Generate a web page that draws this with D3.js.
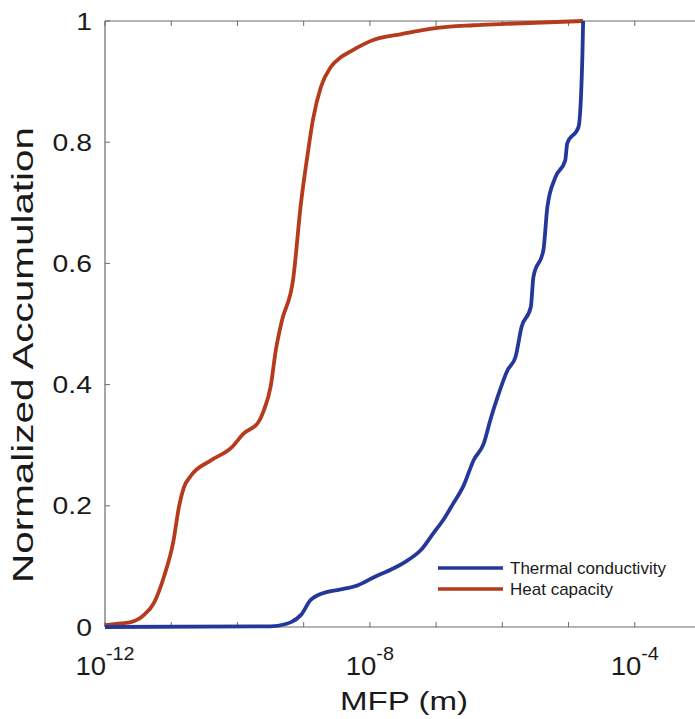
<!DOCTYPE html>
<html>
<head>
<meta charset="utf-8">
<script src="https://cdn.jsdelivr.net/npm/d3@7"></script>
<style>
    body { margin: 0; background: #fff; }
    text { font-family: "Liberation Sans", Arial, sans-serif; fill: #1a1a1a; }
</style>
</head>
<body>
<svg id="chart" width="695" height="719"></svg>
<script>
"use strict";

// data (log10 of MFP in m, normalized accumulation)
const condLogMfp = [-12.0, -9.50, -9.27, -9.19, -9.04, -8.89, -8.64, -8.44, -8.18, -7.94, -7.64, -7.43, -7.23, -7.04, -6.89, -6.74, -6.59, -6.43, -6.28, -6.18, -6.07, -5.92, -5.80, -5.71, -5.57, -5.53, -5.38, -5.32, -5.20, -5.05, -5.02, -4.85, -4.79, -4.78];
const condAccum  = [0.0, 0.001, 0.005, 0.008, 0.02, 0.045, 0.058, 0.062, 0.069, 0.082, 0.097, 0.11, 0.127, 0.155, 0.177, 0.204, 0.232, 0.276, 0.303, 0.342, 0.38, 0.424, 0.446, 0.495, 0.528, 0.578, 0.622, 0.693, 0.742, 0.77, 0.798, 0.825, 0.947, 1.0];

const heatLogMfp = [-12.0, -11.76, -11.61, -11.41, -11.26, -11.11, -10.97, -10.88, -10.81, -10.70, -10.40, -10.10, -9.90, -9.69, -9.60, -9.50, -9.42, -9.33, -9.16, -9.04, -8.94, -8.86, -8.74, -8.59, -8.44, -8.29, -7.94, -7.54, -7.04, -6.43, -6.03, -4.78];
const heatAccum  = [0.003, 0.006, 0.008, 0.02, 0.04, 0.083, 0.14, 0.20, 0.23, 0.25, 0.275, 0.295, 0.32, 0.337, 0.358, 0.396, 0.457, 0.505, 0.573, 0.70, 0.78, 0.837, 0.891, 0.924, 0.940, 0.950, 0.969, 0.978, 0.988, 0.993, 0.995, 1.0];

const seriesNames = ["Thermal conductivity", "Heat capacity"];
const seriesColors = ["#25389a", "#b63a1c"];

const xTickExp = [-12, -11, -10, -9, -8, -7, -6, -5, -4, -3];
const xLabelExp = [-12, -8, -4];
const yTicks = [0, 0.2, 0.4, 0.6, 0.8, 1];



// layout
const plot = { left: 105, right: 701, top: 21, bottom: 627 };
const axisColor = "#6a6a6a";
const tickLen = 5;

let svg = d3.select("#chart");



// scales
let scaleX = d3.scaleLog()
.domain([1e-12, 1e-3])
.range([plot.left, plot.right]);

let scaleY = d3.scaleLinear()
.domain([0, 1])
.range([plot.bottom, plot.top]);



// axes frame (bottom, top, left)
let axes = svg.append("g").attr("class", "axes");

axes.append("line")
.attr("x1", plot.left).attr("x2", plot.right)
.attr("y1", plot.bottom).attr("y2", plot.bottom)
.attr("stroke", axisColor).attr("stroke-width", 1.2);

axes.append("line")
.attr("x1", plot.left).attr("x2", plot.right)
.attr("y1", plot.top).attr("y2", plot.top)
.attr("stroke", axisColor).attr("stroke-width", 1.2);

axes.append("line")
.attr("x1", plot.left).attr("x2", plot.left)
.attr("y1", plot.top).attr("y2", plot.bottom)
.attr("stroke", axisColor).attr("stroke-width", 1.2);



// x ticks (inward, top and bottom)
xTickExp.forEach(e => {
    let x = scaleX(Math.pow(10, e));
    axes.append("line")
    .attr("x1", x).attr("x2", x)
    .attr("y1", plot.bottom).attr("y2", plot.bottom - tickLen)
    .attr("stroke", axisColor);
    axes.append("line")
    .attr("x1", x).attr("x2", x)
    .attr("y1", plot.top).attr("y2", plot.top + tickLen)
    .attr("stroke", axisColor);
});

// x tick labels 10^n
xLabelExp.forEach(e => {
    let x = scaleX(Math.pow(10, e));
    let t = axes.append("text")
    .attr("x", x)
    .attr("y", 675)
    .attr("text-anchor", "middle")
    .attr("transform", `translate(${x}, 0) scale(1.1, 1) translate(${-x}, 0)`)
    .style("font-size", "25px");
    t.append("tspan").text("10");
    t.append("tspan")
    .attr("dy", -15)
    .style("font-size", "18px")
    .text(String(e));
});



// y ticks + labels
yTicks.forEach(v => {
    let y = scaleY(v);
    axes.append("line")
    .attr("x1", plot.left).attr("x2", plot.left + tickLen)
    .attr("y1", y).attr("y2", y)
    .attr("stroke", axisColor);
    axes.append("text")
    .attr("x", 92)
    .attr("y", y)
    .attr("dy", "0.36em")
    .attr("text-anchor", "end")
    .attr("transform", `translate(92, 0) scale(1.18, 1) translate(-92, 0)`)
    .style("font-size", "24px")
    .text(v === 0 || v === 1 ? String(v) : v.toFixed(1));
});



// axis titles
svg.append("text")
.attr("x", 404)
.attr("y", 710)
.attr("text-anchor", "middle")
.attr("textLength", 128)
.attr("lengthAdjust", "spacingAndGlyphs")
.style("font-size", "26px")
.text("MFP (m)");

svg.append("text")
.attr("transform", "translate(33, 355) rotate(-90)")
.attr("text-anchor", "middle")
.attr("textLength", 456)
.attr("lengthAdjust", "spacingAndGlyphs")
.style("font-size", "29px")
.text("Normalized Accumulation");



// lines
let line = d3.line()
.x(d => scaleX(Math.pow(10, d[0])))
.y(d => scaleY(d[1]))
.curve(d3.curveMonotoneX);

let condData = condLogMfp.map((e, i) => [e, condAccum[i]]);
let heatData = heatLogMfp.map((e, i) => [e, heatAccum[i]]);

svg.append("path")
.datum(heatData)
.attr("fill", "none")
.attr("stroke", seriesColors[1])
.attr("stroke-width", 3.8)
.attr("stroke-linejoin", "round")
.attr("d", line);

svg.append("path")
.datum(condData)
.attr("fill", "none")
.attr("stroke", seriesColors[0])
.attr("stroke-width", 3.8)
.attr("stroke-linejoin", "round")
.attr("d", line);



// legend
let legend = svg.append("g")
.attr("class", "legend")
.attr("transform", "translate(438, 568)");

seriesNames.forEach((name, i) => {
    legend.append("line")
    .attr("x1", 0).attr("x2", 65)
    .attr("y1", i * 21).attr("y2", i * 21)
    .attr("stroke", seriesColors[i])
    .attr("stroke-width", 3.5);
    legend.append("text")
    .attr("x", 72)
    .attr("y", i * 21)
    .attr("dy", "0.36em")
    .style("font-size", "17px")
    .text(name);
});
</script>
</body>
</html>
